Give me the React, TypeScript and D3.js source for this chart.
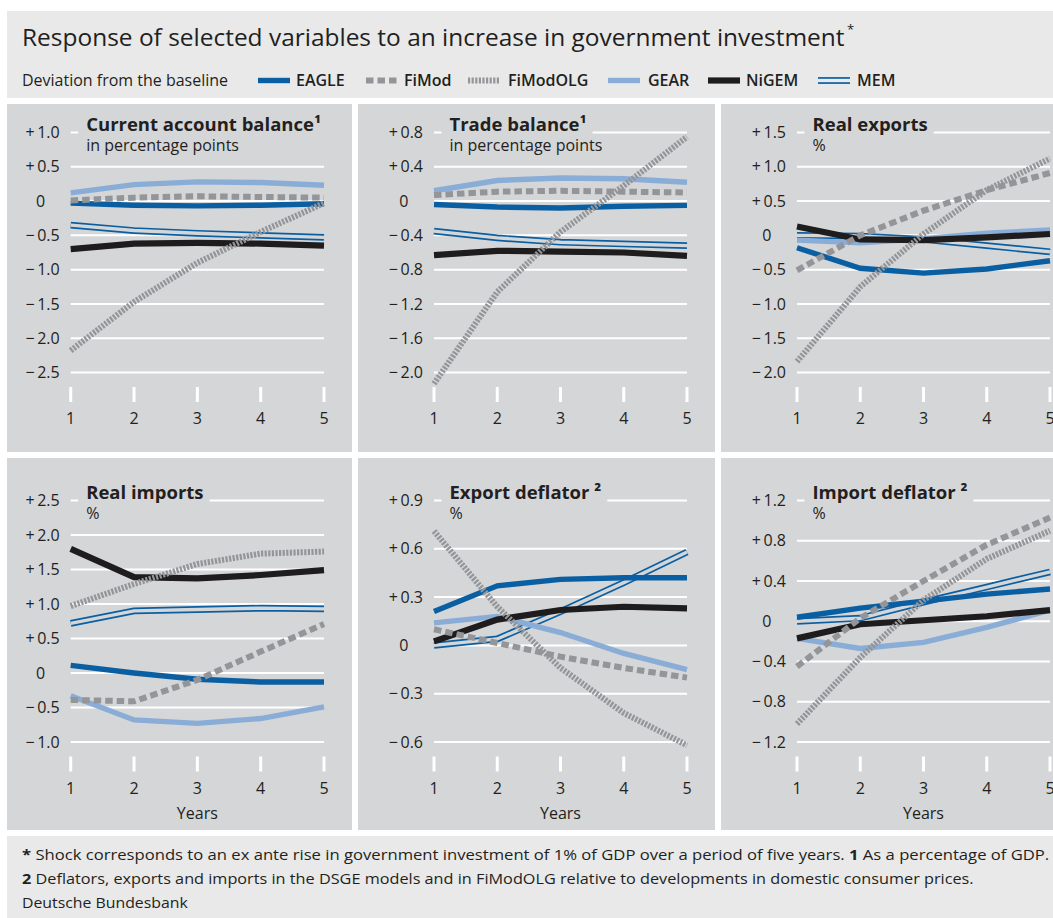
import React, { useEffect, useRef } from "react";
import * as d3 from "d3";

// ---- data -------------------------------------------------------------
const YEARS = [1, 2, 3, 4, 5];
const MODELS = ["EAGLE", "FiMod", "FiModOLG", "GEAR", "NiGEM", "MEM"];

// Current account balance (percentage points)
const caEAGLE = [-0.03, -0.06, -0.07, -0.06, -0.04];
const caFiMod = [0.01, 0.05, 0.07, 0.06, 0.05];
const caFiModOLG = [-2.18, -1.47, -0.9, -0.45, -0.03];
const caGEAR = [0.12, 0.24, 0.28, 0.27, 0.23];
const caNiGEM = [-0.7, -0.62, -0.61, -0.62, -0.65];
const caMEM = [-0.35, -0.43, -0.47, -0.5, -0.53];
const caTicks = [1.0, 0.5, 0, -0.5, -1.0, -1.5, -2.0, -2.5];

// Trade balance (percentage points)
const tbEAGLE = [-0.04, -0.07, -0.08, -0.06, -0.05];
const tbFiMod = [0.07, 0.11, 0.12, 0.11, 0.1];
const tbFiModOLG = [-2.13, -1.06, -0.36, 0.18, 0.75];
const tbGEAR = [0.12, 0.24, 0.27, 0.26, 0.22];
const tbNiGEM = [-0.63, -0.58, -0.59, -0.6, -0.64];
const tbMEM = [-0.35, -0.43, -0.48, -0.5, -0.52];
const tbTicks = [0.8, 0.4, 0, -0.4, -0.8, -1.2, -1.6, -2.0];

// Real exports (%)
const exEAGLE = [-0.18, -0.48, -0.55, -0.49, -0.37];
const exFiMod = [-0.51, 0.0, 0.36, 0.66, 0.91];
const exFiModOLG = [-1.84, -0.75, 0.02, 0.66, 1.12];
const exGEAR = [-0.07, -0.11, -0.05, 0.03, 0.08];
const exNiGEM = [0.13, -0.06, -0.07, -0.03, 0.02];
const exMEM = [0.0, -0.01, -0.06, -0.15, -0.24];
const exTicks = [1.5, 1.0, 0.5, 0, -0.5, -1.0, -1.5, -2.0];

// Real imports (%)
const imEAGLE = [0.11, 0.0, -0.09, -0.13, -0.13];
const imFiMod = [-0.39, -0.41, -0.1, 0.31, 0.71];
const imFiModOLG = [0.97, 1.29, 1.58, 1.73, 1.76];
const imGEAR = [-0.33, -0.68, -0.73, -0.66, -0.49];
const imNiGEM = [1.8, 1.39, 1.37, 1.42, 1.49];
const imMEM = [0.72, 0.9, 0.92, 0.94, 0.93];
const imTicks = [2.5, 2.0, 1.5, 1.0, 0.5, 0, -0.5, -1.0];

// Export deflator (%)
const edEAGLE = [0.21, 0.37, 0.41, 0.42, 0.42];
const edFiMod = [0.1, 0.015, -0.07, -0.14, -0.2];
const edFiModOLG = [0.71, 0.24, -0.14, -0.42, -0.62];
const edGEAR = [0.14, 0.18, 0.08, -0.05, -0.15];
const edNiGEM = [0.025, 0.16, 0.22, 0.24, 0.23];
const edMEM = [0.0, 0.04, 0.21, 0.39, 0.58];
const edTicks = [0.9, 0.6, 0.3, 0, -0.3, -0.6];

// Import deflator (%)
const idEAGLE = [0.04, 0.13, 0.2, 0.27, 0.32];
const idFiMod = [-0.45, 0.03, 0.4, 0.76, 1.03];
const idFiModOLG = [-1.02, -0.36, 0.21, 0.62, 0.9];
const idGEAR = [-0.17, -0.27, -0.21, -0.06, 0.11];
const idNiGEM = [-0.17, -0.03, 0.01, 0.05, 0.11];
const idMEM = [0.0, 0.03, 0.19, 0.34, 0.49];
const idTicks = [1.2, 0.8, 0.4, 0, -0.4, -0.8, -1.2];

const PANELS = [
  { title: "Current account balance\u00b9", unit: "in percentage points", ticks: caTicks,
    series: { EAGLE: caEAGLE, FiMod: caFiMod, FiModOLG: caFiModOLG, GEAR: caGEAR, NiGEM: caNiGEM, MEM: caMEM } },
  { title: "Trade balance\u00b9", unit: "in percentage points", ticks: tbTicks,
    series: { EAGLE: tbEAGLE, FiMod: tbFiMod, FiModOLG: tbFiModOLG, GEAR: tbGEAR, NiGEM: tbNiGEM, MEM: tbMEM } },
  { title: "Real exports", unit: "%", ticks: exTicks,
    series: { EAGLE: exEAGLE, FiMod: exFiMod, FiModOLG: exFiModOLG, GEAR: exGEAR, NiGEM: exNiGEM, MEM: exMEM } },
  { title: "Real imports", unit: "%", ticks: imTicks,
    series: { EAGLE: imEAGLE, FiMod: imFiMod, FiModOLG: imFiModOLG, GEAR: imGEAR, NiGEM: imNiGEM, MEM: imMEM } },
  { title: "Export deflator \u00b2", unit: "%", ticks: edTicks,
    series: { EAGLE: edEAGLE, FiMod: edFiMod, FiModOLG: edFiModOLG, GEAR: edGEAR, NiGEM: edNiGEM, MEM: edMEM } },
  { title: "Import deflator \u00b2", unit: "%", ticks: idTicks,
    series: { EAGLE: idEAGLE, FiMod: idFiMod, FiModOLG: idFiModOLG, GEAR: idGEAR, NiGEM: idNiGEM, MEM: idMEM } },
];

const TITLE = "Response of selected variables to an increase in government investment";
const LEGEND_CAPTION = "Deviation from the baseline";
const X_AXIS_LABEL = "Years";
const SOURCE = "Deutsche Bundesbank";

// ---- styling ----------------------------------------------------------
const W = 1053;
const H = 918;
const FONT = "'Open Sans', 'Noto Sans', sans-serif";
const TEXT = "#231f20";
const FRAME_BG = "#e9e9ea";
const PANEL_BG = "#d5d6d8";
const BLUE = "#0a5fa2";
const LIGHT_BLUE = "#8aadd7";
const GREY = "#939598";
const BLACK = "#1e1c1c";

const STYLE = {
  EAGLE: { stroke: BLUE, width: 5.4, dash: null },
  FiMod: { stroke: GREY, width: 6, dash: "7.5,4" },
  FiModOLG: { stroke: GREY, width: 6, dash: "2.2,1.4" },
  GEAR: { stroke: LIGHT_BLUE, width: 5.4, dash: null },
  NiGEM: { stroke: BLACK, width: 6.2, dash: null },
};
const DRAW_ORDER = ["MEM", "GEAR", "EAGLE", "NiGEM", "FiMod", "FiModOLG"];

// panel geometry
const COL_X = [7, 358, 721];
const COL_W = [345, 357, 340];
const PLOT_X = [[70.7, 324], [434, 687], [797, 1050]];
const ROW_Y = [104, 458];
const ROW_H = [348, 372];
const PLOT_Y = [[132.5, 372.5], [500.5, 742]];

function fmtTick(v) {
  if (v === 0) return "0";
  const sign = v > 0 ? "+" : "\u2212";
  return `${sign}\u2009${Math.abs(v).toFixed(1)}`;
}

function fitWidth(sel, x, y, target) {
  const w = sel.node().getComputedTextLength();
  const k = target / w;
  sel.attr("x", 0).attr("y", 0).attr("transform", `translate(${x},${y}) scale(${k},1)`);
}

function drawMEM(g, d) {
  g.append("path").attr("d", d).attr("fill", "none").attr("stroke", BLUE)
    .attr("stroke-width", 6.8).attr("stroke-linejoin", "miter");
  g.append("path").attr("d", d).attr("fill", "none").attr("stroke", PANEL_BG)
    .attr("stroke-width", 3.4).attr("stroke-linejoin", "miter");
}

export default function App() {
  const ref = useRef(null);

  useEffect(() => {
    const svg = d3.select(ref.current);
    svg.selectAll("*").remove();
    svg.append("rect").attr("width", W).attr("height", H).attr("fill", "#ffffff");

    // header and footer boxes
    svg.append("rect").attr("x", 7).attr("y", 11).attr("width", W - 7).attr("height", 87).attr("fill", FRAME_BG);
    svg.append("rect").attr("x", 7).attr("y", 836).attr("width", W - 7).attr("height", H - 836).attr("fill", FRAME_BG);

    // title
    const title = svg.append("text").attr("font-family", FONT).attr("font-size", 24.5)
      .attr("fill", TEXT).text(TITLE);
    fitWidth(title, 22, 46, 823);
    svg.append("text").attr("x", 847).attr("y", 34).attr("font-family", FONT)
      .attr("font-size", 13).attr("fill", TEXT).text("*");

    // legend
    svg.append("text").attr("x", 22).attr("y", 86).attr("font-family", FONT)
      .attr("font-size", 16).attr("fill", TEXT).text(LEGEND_CAPTION)
      .attr("textLength", 206).attr("lengthAdjust", "spacingAndGlyphs");
    const legendSwatchX = [258, 366, 468, 608, 708, 818];
    const legendTextX = [296, 404, 508, 648, 746, 857];
    const ly = 80.5;
    MODELS.forEach((m, i) => {
      const x0 = legendSwatchX[i];
      const d = `M${x0},${ly}L${x0 + 32},${ly}`;
      if (m === "MEM") {
        const lg = svg.append("g");
        lg.append("path").attr("d", d).attr("stroke", BLUE).attr("stroke-width", 6.8);
        lg.append("path").attr("d", d).attr("stroke", FRAME_BG).attr("stroke-width", 3.4);
      } else {
        const s = STYLE[m];
        svg.append("path").attr("d", d).attr("stroke", s.stroke).attr("stroke-width", s.width)
          .attr("stroke-dasharray", s.dash);
      }
      svg.append("text").attr("x", legendTextX[i]).attr("y", 86).attr("font-family", FONT)
        .attr("font-size", 16).attr("font-weight", 600).attr("fill", TEXT).text(m);
    });

    // panels
    PANELS.forEach((p, idx) => {
      const row = Math.floor(idx / 3);
      const col = idx % 3;
      const g = svg.append("g");
      g.append("rect").attr("x", COL_X[col]).attr("y", ROW_Y[row])
        .attr("width", COL_W[col]).attr("height", ROW_H[row]).attr("fill", PANEL_BG);

      const [x0, x1] = PLOT_X[col];
      const [yTop, yBot] = PLOT_Y[row];
      const x = d3.scaleLinear().domain([1, 5]).range([x0, x1]);
      const y = d3.scaleLinear().domain([d3.min(p.ticks), d3.max(p.ticks)]).range([yBot, yTop]);

      // gridlines and value labels
      p.ticks.forEach((t) => {
        g.append("line").attr("x1", x0).attr("x2", x1).attr("y1", y(t)).attr("y2", y(t))
          .attr("stroke", "#ffffff").attr("stroke-width", 2);
        g.append("text").attr("x", t === 0 ? x0 - 25.5 : x0 - 11).attr("y", y(t) + 5.6)
          .attr("text-anchor", "end").attr("font-family", FONT).attr("font-size", 16)
          .attr("fill", TEXT).text(fmtTick(t));
      });

      // year ticks and labels
      YEARS.forEach((yr) => {
        g.append("line").attr("x1", x(yr)).attr("x2", x(yr)).attr("y1", yBot + 14.5).attr("y2", yBot + 29.5)
          .attr("stroke", "#ffffff").attr("stroke-width", 3);
        g.append("text").attr("x", x(yr)).attr("y", yBot + 51.5).attr("text-anchor", "middle")
          .attr("font-family", FONT).attr("font-size", 16).attr("fill", TEXT).text(String(yr));
      });
      if (row === 1) {
        g.append("text").attr("x", x(3)).attr("y", yBot + 76.5).attr("text-anchor", "middle")
          .attr("font-family", FONT).attr("font-size", 16).attr("fill", TEXT).text(X_AXIS_LABEL);
      }

      // panel title with a knock-out box over the top gridline
      const tx = x0 + 15.5;
      const box = g.append("rect");
      const tt = g.append("text").attr("x", tx).attr("y", yTop - 1.5).attr("font-family", FONT)
        .attr("font-size", 18.5).attr("font-weight", 700).attr("fill", TEXT).text(p.title);
      const tw = tt.node().getComputedTextLength();
      box.attr("x", tx - 8).attr("y", yTop - 4).attr("width", tw + 14).attr("height", 8).attr("fill", PANEL_BG);
      g.append("text").attr("x", tx).attr("y", yTop + 18.5).attr("font-family", FONT)
        .attr("font-size", 16).attr("fill", TEXT).text(p.unit);

      // series
      const line = d3.line().x((_, i) => x(YEARS[i])).y((v) => y(v));
      DRAW_ORDER.forEach((m) => {
        const d = line(p.series[m]);
        if (m === "MEM") {
          drawMEM(g, d);
        } else {
          const s = STYLE[m];
          g.append("path").attr("d", d).attr("fill", "none").attr("stroke", s.stroke)
            .attr("stroke-width", s.width).attr("stroke-dasharray", s.dash)
            .attr("stroke-linejoin", "miter");
        }
      });
    });

    // footnotes
    const fn1 = svg.append("text").attr("font-family", FONT).attr("font-size", 15).attr("fill", TEXT);
    fn1.append("tspan").attr("font-weight", 700).text("*");
    fn1.append("tspan").text(" Shock corresponds to an ex ante rise in government investment of 1% of GDP over a period of five years. ");
    fn1.append("tspan").attr("font-weight", 700).text("1");
    fn1.append("tspan").text(" As a percentage of GDP.");
    fitWidth(fn1, 22, 860, 1028);

    const fn2 = svg.append("text").attr("font-family", FONT).attr("font-size", 15).attr("fill", TEXT);
    fn2.append("tspan").attr("font-weight", 700).text("2");
    fn2.append("tspan").text(" Deflators, exports and imports in the DSGE models and in FiModOLG relative to developments in domestic consumer prices.");
    fitWidth(fn2, 22, 884, 953);

    const src = svg.append("text").attr("font-family", FONT).attr("font-size", 15).attr("fill", TEXT).text(SOURCE);
    fitWidth(src, 22, 908, 166);
  }, []);

  return (
    <svg
      ref={ref}
      width={W}
      height={H}
      style={{ position: "absolute", left: 0, top: 0, display: "block" }}
    />
  );
}
